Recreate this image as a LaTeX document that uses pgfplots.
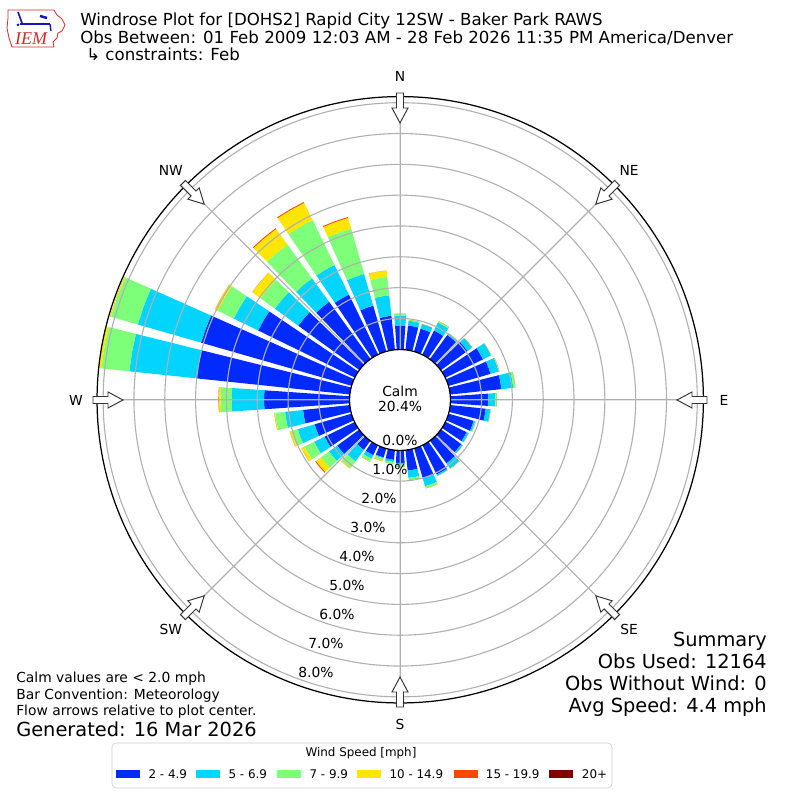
\documentclass[border=0pt]{standalone}
\usepackage{pgfplots}
\pgfplotsset{compat=1.18}
\usepackage{pgfplotstable}
\usepgfplotslibrary{polar}
\usetikzlibrary{calc}
\usepackage{fontspec}
\setmainfont{DejaVu Sans}
\newfontfamily\logofont{Liberation Serif}

\definecolor{c1}{HTML}{002AFF}
\definecolor{c2}{HTML}{00D4FF}
\definecolor{c3}{HTML}{7DFF7A}
\definecolor{c4}{HTML}{FFE600}
\definecolor{c5}{HTML}{FF4700}
\definecolor{c6}{HTML}{800000}
\definecolor{gridc}{HTML}{B0B0B0}
\definecolor{logored}{HTML}{D42A2A}
\definecolor{logoblue}{HTML}{1515C0}

% percent of observations per direction and speed bin
\pgfplotstableread{
dir b1 b2 b3 b4 b5
0 0.76 0.33 0.07 0 0
10 0.78 0.16 0.03 0 0
20 0.76 0.16 0 0 0
30 0.86 0.29 0.05 0 0
40 0.96 0.07 0 0 0
50 1.06 0.18 0.01 0 0
60 1.35 0.29 0.01 0 0
70 1.41 0.28 0.02 0 0
80 1.66 0.39 0.07 0 0
90 1.22 0.23 0.05 0 0
100 1.15 0.15 0.01 0 0
110 0.84 0.05 0.02 0 0
120 0.76 0.07 0 0 0
130 0.81 0.06 0 0 0
140 0.91 0.21 0.01 0 0
150 1.06 0.05 0 0 0
160 1.02 0.26 0.07 0 0
170 0.67 0.24 0.07 0 0
180 0.41 0.06 0.07 0 0
190 0.32 0.07 0.06 0 0
200 0.31 0.03 0.07 0.03 0
210 0.36 0.13 0.10 0.01 0
220 0.37 0.46 0.26 0.03 0
230 0.89 0.33 0.32 0.20 0.03
240 1.09 0.38 0.35 0.11 0
250 1.25 0.57 0.22 0.05 0
260 1.53 0.59 0.32 0.03 0
270 2.78 1.05 0.36 0.06 0.01
280 5.02 2.18 0.91 0.10 0
290 5.08 2.14 0.91 0.03 0
300 3.49 0.88 0.58 0.10 0
310 2.45 0.94 0.58 0.33 0
320 2.29 0.94 1.36 0.62 0.03
330 2.16 1.07 1.62 0.62 0.03
340 1.54 1.07 1.53 0.36 0.03
350 1.10 0.67 0.60 0.21 0
}\rose

\def\off{1.6396}
\newcommand\rosewedge[2]{%
  \pgfplotstablegetelem{\i}{#1}\of\rose
  \pgfmathsetmacro\rhi{\rlo+\pgfplotsretval}%
  \edef\cmd{\noexpand\addplot[fill=#2,draw=none] coordinates {(\ta,\rlo) (\tm,\rlo) (\tb,\rlo) (\tb,\rhi) (\tm,\rhi) (\ta,\rhi)} -- cycle;}%
  \cmd
  \let\rlo\rhi
}

\begin{document}
\begin{tikzpicture}[x=0.01in,y=0.01in]
\path[use as bounding box] (0,0) rectangle (800,800);

\begin{polaraxis}[
  at={(4in,4in)}, anchor=center,
  scale only axis, width=6.06in, height=6.06in,
  ymin=0, ymax=9.8377,
  xtick={0,45,...,315}, xticklabels={},
  ytick={2.6396,3.6396,4.6396,5.6396,6.6396,7.6396,8.6396,9.6396}, yticklabels={},
  grid=major, major grid style={color=gridc, line width=0.8pt},
  axis on top,
  x axis line style={black, line width=0.9pt},
  y axis line style={draw=none},
  major tick length=0pt,
]
\pgfplotsforeachungrouped \i in {0,...,35}{%
  \pgfplotstablegetelem{\i}{dir}\of\rose
  \pgfmathsetmacro\th{90-\pgfplotsretval}%
  \pgfmathsetmacro\ta{\th-4}%
  \pgfmathsetmacro\tm{\th}%
  \pgfmathsetmacro\tb{\th+4}%
  \edef\rlo{\off}%
  \rosewedge{b1}{c1}%
  \rosewedge{b2}{c2}%
  \rosewedge{b3}{c3}%
  \rosewedge{b4}{c4}%
  \rosewedge{b5}{c5}%
}
\end{polaraxis}

% calm circle
\draw[black, line width=0.9pt, fill=white] (400,400) circle (50.5);
\node[font=\fontsize{10}{12}\selectfont, align=center] at (400,401) {Calm\\[-1pt]20.4\%};

% direction arrows and labels
\foreach \a/\lab in {0/N,45/NE,90/E,135/SE,180/S,225/SW,270/W,315/NW}{
  \begin{scope}[shift={(400,400)}, rotate=-\a]
    \draw[fill=white, draw=black!80, line width=0.7pt, line join=miter]
      (-3.5,307) -- (-3.5,292) -- (-8,292) -- (0,277) -- (8,292) -- (3.5,292) -- (3.5,307) -- cycle;
  \end{scope}
  \node[font=\fontsize{10}{12}\selectfont] at ($(400,400)+({90-\a}:324)$) {\lab};
}

% radial labels
\foreach \x/\y/\t in {400/440/0.0,390/469/1.0,379/498/2.0,368/527/3.0,357/556/4.0,347/585/5.0,337/614/6.0,326/643/7.0,316/672/8.0}{
  \node[font=\fontsize{10}{12}\selectfont, inner sep=0pt] at (\x,800-\y) {\t\%};
}

% title
\node[anchor=base west, inner sep=0pt, font=\fontsize{12}{14}\selectfont] at (80,800-26) {Windrose Plot for [DOHS2] Rapid City 12SW - Baker Park RAWS};
\node[anchor=base west, inner sep=0pt, font=\fontsize{12}{14}\selectfont] at (80,800-44) {Obs Between: 01 Feb 2009 12:03 AM - 28 Feb 2026 11:35 PM America/Denver};
\node[anchor=base west, inner sep=0pt, font=\fontsize{12}{14}\selectfont] at (86,800-61) {↳ constraints: Feb};

% logo
\draw[logored, line width=0.6pt, line join=round]
  (8,790) -- (54,790) -- (57,785) -- (62,781) -- (65,775) -- (62,769) -- (58,767) -- (57,762) -- (53,758) -- (54,753) -- (12,753) -- (9,762) -- (7,772) -- (8,782) -- cycle;
\draw[logoblue, line width=1.6pt] (20,776) -- (50,776);
\draw[logoblue, line width=1.2pt] (18,788) -- (22,777);
\draw[logoblue, line width=1.8pt] (40,784) -- (47,782);
\draw[logoblue, line width=1pt] (50,776) -- (51,769);
\fill[logoblue] (18,775) circle (1.5);
\node[logored, font=\logofont\itshape\fontsize{13}{14}\selectfont, inner sep=0pt] at (31,761) {IEM};

% bottom left notes
\node[anchor=base west, inner sep=0pt, font=\fontsize{10}{12}\selectfont] at (16,800-683) {Calm values are < 2.0 mph};
\node[anchor=base west, inner sep=0pt, font=\fontsize{10}{12}\selectfont] at (16,800-700) {Bar Convention: Meteorology};
\node[anchor=base west, inner sep=0pt, font=\fontsize{10}{12}\selectfont] at (16,800-716) {Flow arrows relative to plot center.};
\node[anchor=base west, inner sep=0pt, font=\fontsize{14}{16}\selectfont] at (16,800-737) {Generated: 16 Mar 2026};

% summary
\node[anchor=base east, inner sep=0pt, font=\fontsize{14}{16}\selectfont] at (767,800-647) {Summary};
\node[anchor=base east, inner sep=0pt, font=\fontsize{14}{16}\selectfont] at (767,800-669) {Obs Used: 12164};
\node[anchor=base east, inner sep=0pt, font=\fontsize{14}{16}\selectfont] at (767,800-691) {Obs Without Wind: 0};
\node[anchor=base east, inner sep=0pt, font=\fontsize{14}{16}\selectfont] at (767,800-713) {Avg Speed: 4.4 mph};

% legend
\draw[draw=black!20, fill=white, rounded corners=3] (112,800-743) rectangle (612,800-788);
\node[font=\fontsize{8.6}{10}\selectfont, inner sep=0pt] at (361,800-753) {Wind Speed [mph]};
\foreach \px/\tx/\c/\t in {116/148.3/c1/2 - 4.9,196/228.3/c2/5 - 6.9,277/309.3/c3/7 - 9.9,357/389.3/c4/10 - 14.9,454/485.7/c5/15 - 19.9,549/581.7/c6/20+}{
  \fill[\c] (\px,800-770) rectangle (\px+24,800-778);
  \node[anchor=west, inner sep=0pt, font=\fontsize{8.6}{10}\selectfont] at (\tx,800-774) {\t};
}
\end{tikzpicture}
\end{document}
